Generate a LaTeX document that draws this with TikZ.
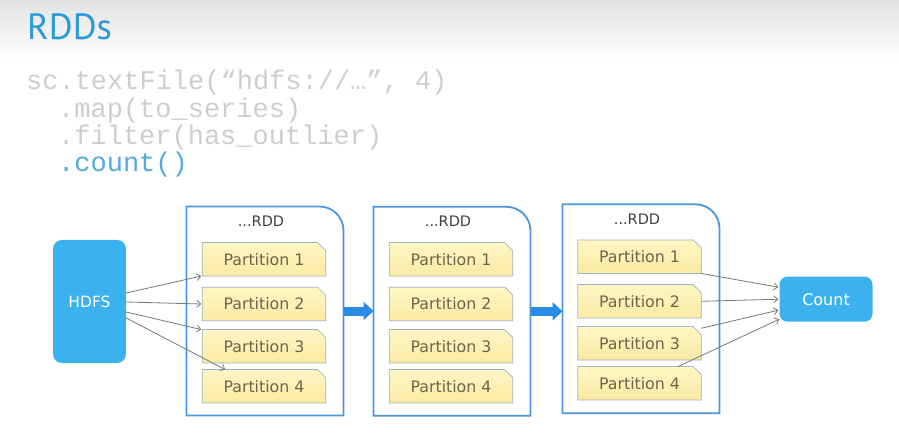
\documentclass[tikz,border=0pt]{standalone}
\usepackage{fontspec}
\setmainfont{DejaVu Sans}
\newfontfamily\titlefont{PT Sans}
\newfontfamily\codefont{Liberation Mono}
\usetikzlibrary{arrows.meta,shapes.misc}
\definecolor{topgray}{RGB}{226,226,226}
\definecolor{titleblue}{RGB}{42,154,216}
\definecolor{codegray}{RGB}{206,206,206}
\definecolor{codeblue}{RGB}{84,170,222}
\definecolor{boxblue}{RGB}{59,178,238}
\definecolor{rddblue}{RGB}{76,151,220}
\definecolor{parttop}{RGB}{254,246,196}
\definecolor{partbot}{RGB}{250,235,163}
\definecolor{partborder}{RGB}{160,180,192}
\definecolor{parttext}{RGB}{111,100,80}
\definecolor{arrowgray}{RGB}{120,120,120}
\definecolor{bigblue}{RGB}{42,139,233}
\begin{document}
\begin{tikzpicture}[x=1pt,y=-1pt,
  codetext/.style={anchor=base west,inner sep=0,font=\codefont\fontsize{27}{28}\selectfont,text=codegray},
  bluebox/.style={fill=boxblue,rounded corners=9pt,text=white,inner sep=0},
  rddbox/.style={minimum width=157pt,minimum height=209pt,inner sep=0,outer sep=0},
  rddline/.style={draw=rddblue,line width=1.8pt,fill=white},
  rddlabel/.style={font=\fontsize{14.5}{16}\selectfont,text=black!75,inner sep=0},
  part/.style={chamfered rectangle,chamfered rectangle corners=north east,
    chamfered rectangle xsep=4pt,chamfered rectangle ysep=4pt,
    draw=partborder,line width=0.7pt,top color=parttop,bottom color=partbot,
    minimum width=123.5pt,minimum height=33.5pt,inner sep=0,outer sep=0,
    font=\fontsize{15.8}{17}\selectfont,text=parttext},
  conn/.style={draw=arrowgray,line width=0.8pt,-{Straight Barb[length=4pt,width=7pt]}},
  bigarrow/.style={draw=bigblue,line width=9pt,-{Triangle[length=10pt,width=18pt]}}]
\useasboundingbox (0,0) rectangle (899,438);
\fill[white] (0,0) rectangle (899,438);
\shade[top color=topgray,bottom color=white] (0,0) rectangle (899,58);
% title and code
\node[anchor=base west,inner sep=0,font=\titlefont\fontsize{36.5}{40}\selectfont,text=titleblue] (title) at (27,40) {RDDs};
\node[codetext] (c1) at (26,90) {sc.textFile(“hdfs://…”, 4)};
\node[codetext] (c2) at (58,118) {.map(to\_series)};
\node[codetext] (c3) at (58,145) {.filter(has\_outlier)};
\node[codetext,text=codeblue] (c4) at (58,172) {.count()};
% HDFS and Count
\node[bluebox,minimum width=73pt,minimum height=123pt,font=\fontsize{15.5}{17}\selectfont] (hdfs) at (89.5,301.5) {HDFS};
\node[bluebox,minimum width=93pt,minimum height=45pt,rounded corners=8pt,font=\fontsize{16}{18}\selectfont] (count) at (826,299.2) {Count};
% RDD containers
\node[rddbox] (r1) at (265,311) {};
\node[rddbox] (r2) at (452,311.3) {};
\node[rddbox] (r3) at (641,308.8) {};
\foreach \r in {r1,r2,r3}{
  \draw[rddline] (\r.south west) -- (\r.north west) -- ([xshift=-24pt]\r.north east)
    arc[start angle=90,end angle=0,radius=24pt] -- (\r.south east) -- cycle;
  \node[rddlabel] (\r lab) at ([xshift=-4pt,yshift=-14.5pt]\r.north) {...RDD};
}
% partitions
\foreach \r/\x/\ya/\yb/\yc/\yd in {p1/264/259.3/304/346.3/386.3, p2/451/259.3/304/346.3/386.3, p3/639.5/256.7/301.3/343.3/383.3}{
  \node[part] (\r1) at (\x,\ya) {Partition 1};
  \node[part] (\r2) at (\x,\yb) {Partition 2};
  \node[part] (\r3) at (\x,\yc) {Partition 3};
  \node[part] (\r4) at (\x,\yd) {Partition 4};
}
% big arrows between RDDs
\draw[bigarrow] (r1.east) -- (r1.east -| r2.west);
\draw[bigarrow] (r2.east) -- (r2.east -| r3.west);
% HDFS to partitions
\coordinate (h1) at ([yshift=8.5pt]hdfs.east);
\coordinate (h2) at ([yshift=-0.5pt]hdfs.east);
\coordinate (h3) at ([yshift=-10.5pt]hdfs.east);
\coordinate (h4) at ([yshift=-16.5pt]hdfs.east);
\draw[conn] (h1) -- ([xshift=-1pt]p11.south west);
\draw[conn] (h2) -- ([xshift=-1pt]p12.west);
\draw[conn] (h3) -- ([xshift=-1pt]p13.north west);
\draw[conn] (h4) -- ([xshift=23pt]p14.north west);
% partitions to Count
\draw[conn] (p31.south east) -- ([yshift=12pt,xshift=-1pt]count.west);
\draw[conn] (p32.east) -- ([xshift=-1pt]count.west);
\draw[conn] ([yshift=15pt]p33.east) -- ([yshift=-11pt,xshift=-1pt]count.west);
\draw[conn] ([xshift=38.5pt]p34.north) -- ([yshift=-20pt]count.west);
\end{tikzpicture}
\end{document}
